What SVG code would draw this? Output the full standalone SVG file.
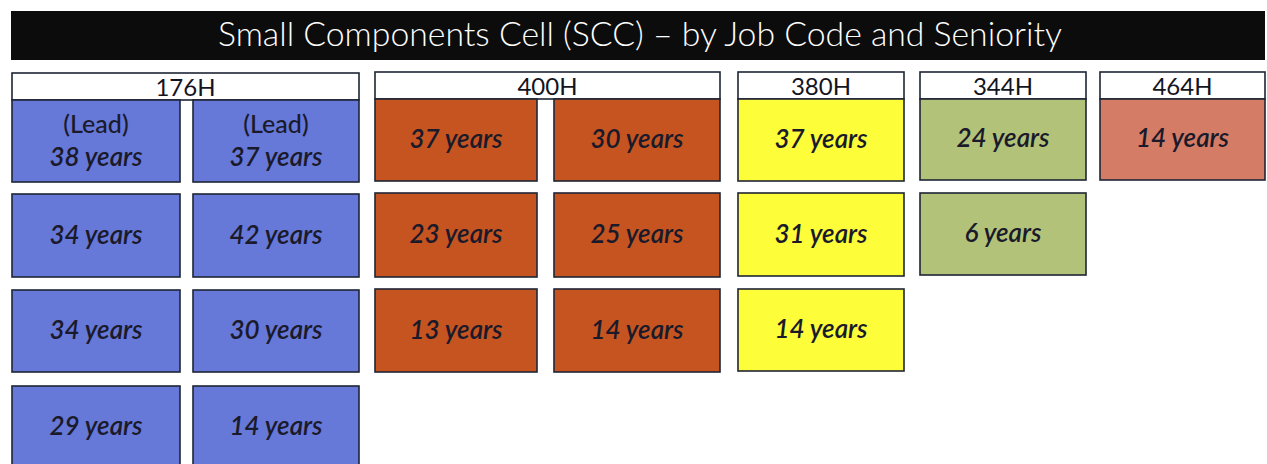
<svg xmlns="http://www.w3.org/2000/svg" width="1267" height="464" viewBox="0 0 1267 464">
  <style>
    .title { font-family: Lato, "Liberation Sans", Arial, sans-serif; font-weight: 300; font-size: 33px; fill: #ffffff; }
    .hdr rect { fill: #ffffff; stroke: #1e2535; stroke-width: 1.6; }
    .hdr text { font-family: Lato, "Liberation Sans", Arial, sans-serif; font-size: 24px; fill: #14141e; text-anchor: middle; }
    .cell rect { stroke: #1e2535; stroke-width: 1.6; }
    .cell text { font-family: Lato, "Liberation Sans", Arial, sans-serif; font-size: 26px; font-weight: 600; fill: #1a1a2a; text-anchor: middle; font-style: italic; }
    .cell text.lead { font-style: normal; font-weight: 500; font-size: 25px; }
    .blue rect { fill: #6678d8; }
    .orange rect { fill: #c55421; }
    .yellow rect { fill: #fdfd3a; }
    .green rect { fill: #b3c279; }
    .salmon rect { fill: #d57c66; }
  </style>

  <!-- title bar -->
  <g id="title">
    <rect x="11" y="11" width="1254" height="49" fill="#0c0c0c"/>
    <text class="title" x="640" y="46" text-anchor="middle" textLength="844" lengthAdjust="spacingAndGlyphs">Small Components Cell (SCC) – by Job Code and Seniority</text>
  </g>

  <!-- job code headers -->
  <g id="hdr-176H" class="hdr"><rect x="12" y="73" width="347" height="27"/><text x="185.5" y="96">176H</text></g>
  <g id="hdr-400H" class="hdr"><rect x="375" y="72" width="345" height="27"/><text x="547.5" y="95">400H</text></g>
  <g id="hdr-380H" class="hdr"><rect x="738" y="72" width="166" height="27"/><text x="821" y="95">380H</text></g>
  <g id="hdr-344H" class="hdr"><rect x="920" y="72" width="166" height="27"/><text x="1003" y="95">344H</text></g>
  <g id="hdr-464H" class="hdr"><rect x="1100" y="72" width="165" height="27"/><text x="1182.5" y="95">464H</text></g>

  <!-- 176H -->
  <g id="c176-1" class="cell blue"><rect x="12" y="100" width="168" height="82"/><text class="lead" x="96" y="133">(Lead)</text><text x="96" y="166">38 years</text></g>
  <g id="c176-2" class="cell blue"><rect x="193" y="100" width="166" height="82"/><text class="lead" x="276" y="133">(Lead)</text><text x="276" y="166">37 years</text></g>
  <g id="c176-3" class="cell blue"><rect x="12" y="194" width="168" height="83"/><text x="96" y="244">34 years</text></g>
  <g id="c176-4" class="cell blue"><rect x="193" y="194" width="166" height="83"/><text x="276" y="244">42 years</text></g>
  <g id="c176-5" class="cell blue"><rect x="12" y="290" width="168" height="82"/><text x="96" y="339">34 years</text></g>
  <g id="c176-6" class="cell blue"><rect x="193" y="290" width="166" height="82"/><text x="276" y="339">30 years</text></g>
  <g id="c176-7" class="cell blue"><rect x="12" y="386" width="168" height="90"/><text x="96" y="435">29 years</text></g>
  <g id="c176-8" class="cell blue"><rect x="193" y="386" width="166" height="90"/><text x="276" y="435">14 years</text></g>

  <!-- 400H -->
  <g id="c400-1" class="cell orange"><rect x="375" y="99" width="162" height="82"/><text x="456" y="148">37 years</text></g>
  <g id="c400-2" class="cell orange"><rect x="554" y="99" width="166" height="82"/><text x="637" y="148">30 years</text></g>
  <g id="c400-3" class="cell orange"><rect x="375" y="193" width="162" height="84"/><text x="456" y="243">23 years</text></g>
  <g id="c400-4" class="cell orange"><rect x="554" y="193" width="166" height="84"/><text x="637" y="243">25 years</text></g>
  <g id="c400-5" class="cell orange"><rect x="375" y="289" width="162" height="83"/><text x="456" y="339">13 years</text></g>
  <g id="c400-6" class="cell orange"><rect x="554" y="289" width="166" height="83"/><text x="637" y="339">14 years</text></g>

  <!-- 380H -->
  <g id="c380-1" class="cell yellow"><rect x="738" y="99" width="166" height="82"/><text x="821" y="148">37 years</text></g>
  <g id="c380-2" class="cell yellow"><rect x="738" y="193" width="166" height="83"/><text x="821" y="243">31 years</text></g>
  <g id="c380-3" class="cell yellow"><rect x="738" y="289" width="166" height="82"/><text x="821" y="338">14 years</text></g>

  <!-- 344H -->
  <g id="c344-1" class="cell green"><rect x="920" y="99" width="166" height="81"/><text x="1003" y="147">24 years</text></g>
  <g id="c344-2" class="cell green"><rect x="920" y="193" width="166" height="82"/><text x="1003" y="242">6 years</text></g>

  <!-- 464H -->
  <g id="c464-1" class="cell salmon"><rect x="1100" y="99" width="165" height="81"/><text x="1182.5" y="147">14 years</text></g>
</svg>
